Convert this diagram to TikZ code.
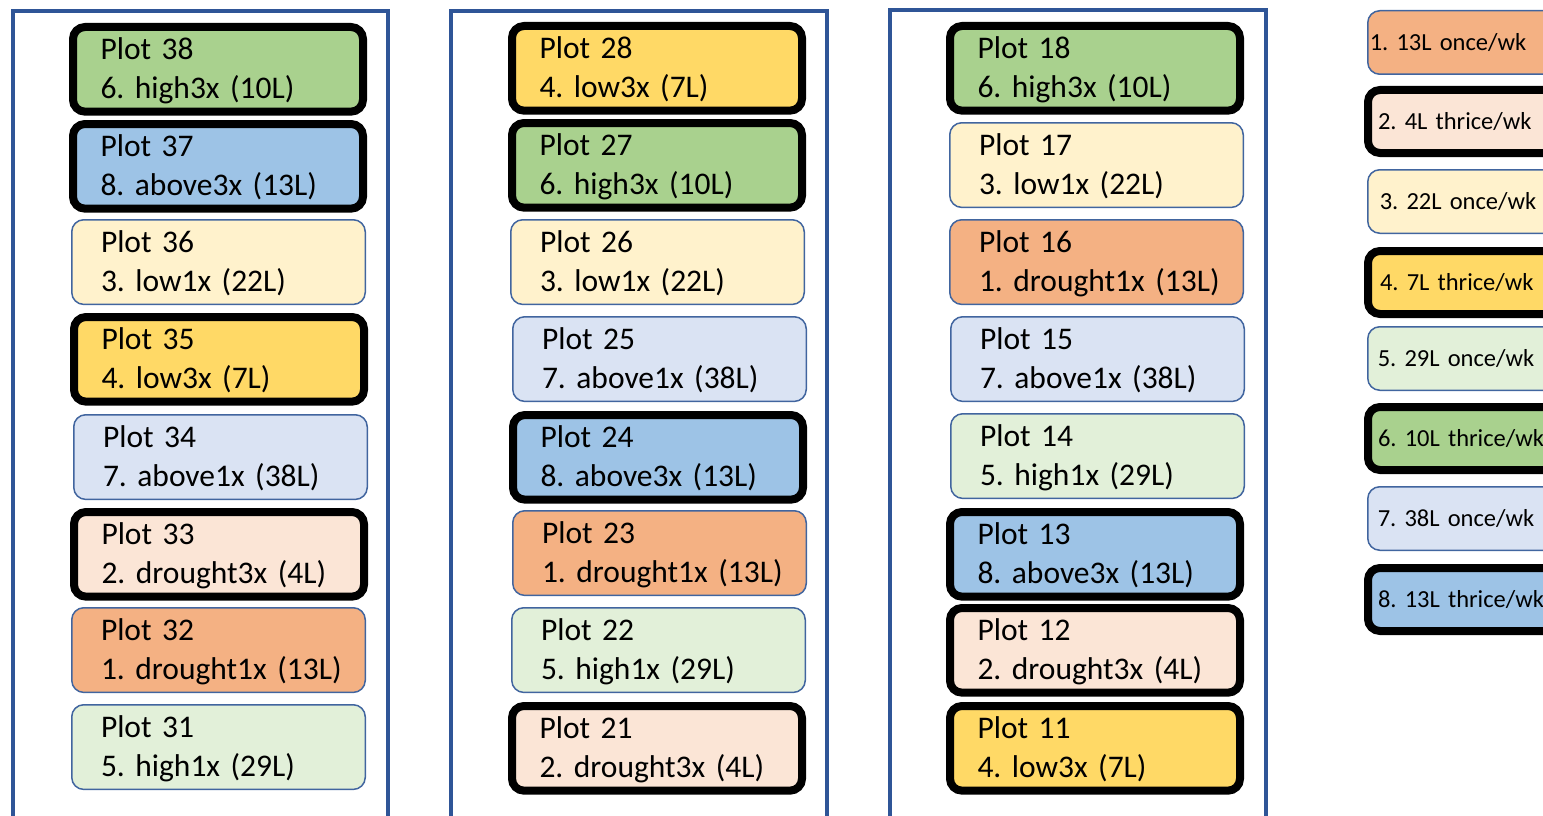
\documentclass[tikz,border=0pt]{standalone}
\usepackage{fontspec}
\setmainfont{Carlito}
\frenchspacing
\definecolor{frameblue}{HTML}{2F5597}
\definecolor{lineblue}{HTML}{41659F}
\definecolor{corange}{HTML}{F4B183}
\definecolor{cpeach}{HTML}{FBE5D6}
\definecolor{clyellow}{HTML}{FFF2CC}
\definecolor{cyellow}{HTML}{FFD966}
\definecolor{clgreen}{HTML}{E2F0D9}
\definecolor{cgreen}{HTML}{A9D18E}
\definecolor{clblue}{HTML}{DAE3F3}
\definecolor{cblue}{HTML}{9DC3E6}
\newcommand\twol[2]{\rule{0pt}{29pt}\mbox{#1}\\\mbox{#2}\rule[-10pt]{0pt}{10pt}}
\tikzset{
  frame/.style={draw=frameblue, line width=4pt},
  plotbox/.style={anchor=north west, rounded corners=12pt, text width=235pt, align=left,
    inner xsep=0pt, font=\fontsize{31.5}{39}\selectfont\frenchspacing},
  thickbox/.style={plotbox, draw=black, line width=8pt, minimum width=290pt, minimum height=80pt},
  thinbox/.style={plotbox, draw=lineblue, line width=1.5pt, minimum width=293.5pt, minimum height=83.5pt},
  legbox/.style={anchor=north west, rounded corners=12pt, text width=220pt, align=left,
    inner xsep=0pt, minimum width=240pt, font=\fontsize{24.5}{30}\selectfont\frenchspacing},
  legthick/.style={legbox, draw=black, line width=8pt, minimum height=63pt},
  legthin/.style={legbox, draw=lineblue, line width=1.5pt, minimum height=63.5pt},
}
\begin{document}
\begin{tikzpicture}[x=1pt,y=-1pt]
\useasboundingbox (0,0) rectangle (1543,816);
\clip (0,0) rectangle (1543,816);
% column frames
\coordinate (f1a) at (13,830); \coordinate (f1b) at (13,11); \coordinate (f1c) at (388,11); \coordinate (f1d) at (388,830);
\draw[frame] (f1a) -- (f1b) -- (f1c) -- (f1d);
\coordinate (f2a) at (451,830); \coordinate (f2b) at (451,11); \coordinate (f2c) at (827,11); \coordinate (f2d) at (827,830);
\draw[frame] (f2a) -- (f2b) -- (f2c) -- (f2d);
\coordinate (f3a) at (889.5,830); \coordinate (f3b) at (889.5,10.5); \coordinate (f3c) at (1265.5,10.5); \coordinate (f3d) at (1265.5,830);
\draw[frame] (f3a) -- (f3b) -- (f3c) -- (f3d);
% column 1
\node[thickbox, fill=cgreen]   (p38) at (69,23)  {\twol{Plot 38}{6. high3x (10L)}};
\node[thickbox, fill=cblue]    (p37) at (69,120) {\twol{Plot 37}{8. above3x (13L)}};
\node[thinbox,  fill=clyellow] (p36) at (71,219) {\twol{Plot 36}{3. low1x (22L)}};
\node[thickbox, fill=cyellow]  (p35) at (70,313) {\twol{Plot 35}{4. low3x (7L)}};
\node[thinbox,  fill=clblue]   (p34) at (73,414) {\twol{Plot 34}{7. above1x (38L)}};
\node[thickbox, fill=cpeach]   (p33) at (70,508) {\twol{Plot 33}{2. drought3x (4L)}};
\node[thinbox,  fill=corange]  (p32) at (71,607) {\twol{Plot 32}{1. drought1x (13L)}};
\node[thinbox,  fill=clgreen]  (p31) at (71,704) {\twol{Plot 31}{5. high1x (29L)}};
% column 2
\node[thickbox, fill=cyellow]  (p28) at (508,22)  {\twol{Plot 28}{4. low3x (7L)}};
\node[thickbox, fill=cgreen]   (p27) at (508,119) {\twol{Plot 27}{6. high3x (10L)}};
\node[thinbox,  fill=clyellow] (p26) at (510,219) {\twol{Plot 26}{3. low1x (22L)}};
\node[thinbox,  fill=clblue]   (p25) at (512,316) {\twol{Plot 25}{7. above1x (38L)}};
\node[thickbox, fill=cblue]    (p24) at (509,411) {\twol{Plot 24}{8. above3x (13L)}};
\node[thinbox,  fill=corange]  (p23) at (512,510) {\twol{Plot 23}{1. drought1x (13L)}};
\node[thinbox,  fill=clgreen]  (p22) at (511,607) {\twol{Plot 22}{5. high1x (29L)}};
\node[thickbox, fill=cpeach]   (p21) at (508,702) {\twol{Plot 21}{2. drought3x (4L)}};
% column 3
\node[thickbox, fill=cgreen]   (p18) at (946,22)  {\twol{Plot 18}{6. high3x (10L)}};
\node[thinbox,  fill=clyellow] (p17) at (949,122) {\twol{Plot 17}{3. low1x (22L)}};
\node[thinbox,  fill=corange]  (p16) at (949,219) {\twol{Plot 16}{1. drought1x (13L)}};
\node[thinbox,  fill=clblue]   (p15) at (950,316) {\twol{Plot 15}{7. above1x (38L)}};
\node[thinbox,  fill=clgreen]  (p14) at (950,413) {\twol{Plot 14}{5. high1x (29L)}};
\node[thickbox, fill=cblue]    (p13) at (946,508) {\twol{Plot 13}{8. above3x (13L)}};
\node[thickbox, fill=cpeach]   (p12) at (946,604) {\twol{Plot 12}{2. drought3x (4L)}};
\node[thickbox, fill=cyellow]  (p11) at (946,702) {\twol{Plot 11}{4. low3x (7L)}};
% legend
\node[legthin,  fill=corange]  (l1) at (1367,10)  {\hspace*{-8pt}1. 13L once/wk};
\node[legthick, fill=cpeach]   (l2) at (1364,86)  {2. 4L thrice/wk};
\node[legthin,  fill=clyellow] (l3) at (1367,169) {\hspace*{2pt}3. 22L once/wk};
\node[legthick, fill=cyellow]  (l4) at (1364,247) {\hspace*{2pt}4. 7L thrice/wk};
\node[legthin,  fill=clgreen]  (l5) at (1367,326) {5. 29L once/wk};
\node[legthick, fill=cgreen]   (l6) at (1364,403) {6. 10L thrice/wk};
\node[legthin,  fill=clblue]   (l7) at (1367,486) {7. 38L once/wk};
\node[legthick, fill=cblue]    (l8) at (1364,564) {8. 13L thrice/wk};
\end{tikzpicture}
\end{document}
